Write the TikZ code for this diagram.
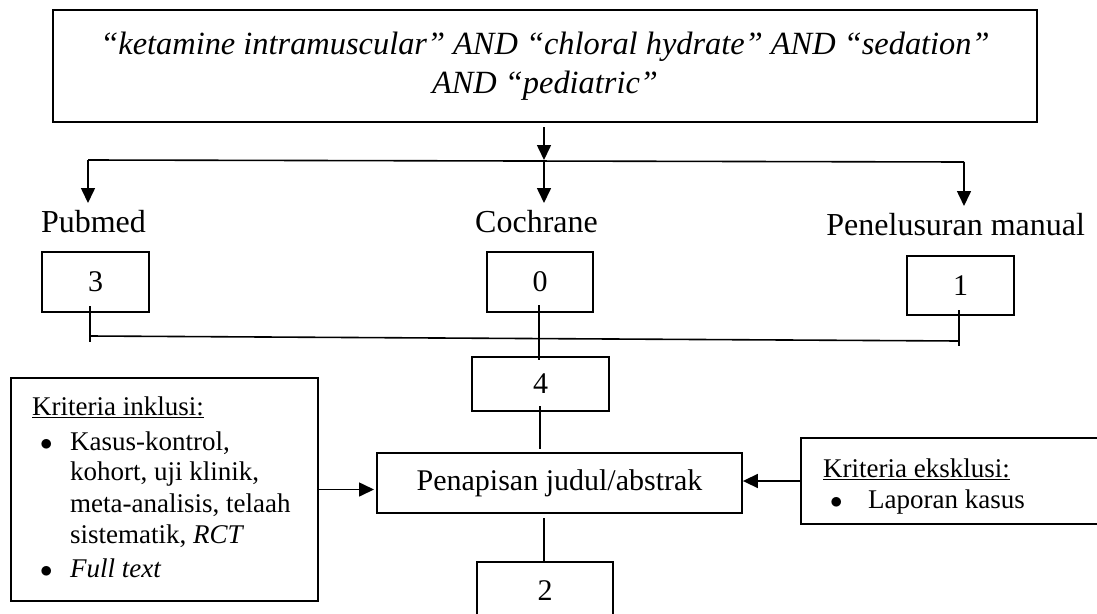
\documentclass[tikz,border=0pt]{standalone}
\usepackage{fontspec}
\setmainfont{Liberation Serif}
\usetikzlibrary{arrows.meta}
\begin{document}
\begin{tikzpicture}[x=1pt,y=-1pt,
  box/.style={draw, line width=1.8pt, inner sep=0pt, anchor=center},
  ln/.style={line width=1.6pt},
  arr/.style={line width=1.6pt, -{Triangle[length=15pt,width=14pt]}},
  lbl/.style={inner sep=0pt, anchor=base, font=\fontsize{32}{38}\selectfont},
  num/.style={box, font=\fontsize{30}{36}\selectfont},
  crit/.style={inner sep=0pt, anchor=base west, font=\fontsize{27}{32}\selectfont},
]
\useasboundingbox (0,0) rectangle (1097,613);
\clip (0,0) rectangle (1097,613);

% top search box
\node[box, minimum width=984pt, minimum height=112pt, align=center,
      font=\fontsize{32.4}{39}\selectfont\itshape] (top) at (545,66)
  {“ketamine intramuscular” AND “chloral hydrate” AND “sedation”\\AND “pediatric”};

% branching
\coordinate (tstart) at (544,127);
\coordinate (bl) at (88,160);
\coordinate (bm) at (544,160);
\coordinate (br) at (964,162);
\coordinate (al) at (88,203);
\coordinate (am) at (544,203);
\coordinate (ar) at (964,206);
\draw[arr] (tstart) -- (bm);
\draw[ln] (bl) -- (br);
\draw[arr] (bl) -- (al);
\draw[arr] (bm) -- (am);
\draw[arr] (br) -- (ar);

% source labels
\node[lbl] (pub) at (93.5,232) {Pubmed};
\node[lbl] (coch) at (536.5,232) {Cochrane};
\node[lbl] (man) at (955.7,235) {Penelusuran manual};

% count boxes
\node[num, minimum width=107pt, minimum height=60pt] (n3) at (95.5,282) {3};
\node[num, minimum width=106pt, minimum height=60pt] (n0) at (540,282) {0};
\node[num, minimum width=107pt, minimum height=59pt] (n1) at (960.5,285.5) {1};
\node[num, minimum width=137pt, minimum height=54pt] (n4) at (540.5,384) {4};
\node[box, minimum width=365pt, minimum height=60pt, font=\fontsize{30}{36}\selectfont] (pen) at (559.5,483) {Penapisan judul/abstrak};
\node[num, minimum width=136pt, minimum height=58pt] (n2) at (545,591) {2};

% merging connectors
\coordinate (v3a) at (90,306);
\coordinate (v3b) at (90,342);
\coordinate (hl) at (90,336);
\coordinate (hr) at (959,341);
\coordinate (v1a) at (959,310);
\coordinate (v1b) at (959,346);
\coordinate (v0a) at (539,305);
\coordinate (v0b) at (539,360);
\coordinate (v4a) at (540,406);
\coordinate (v4b) at (540,449);
\coordinate (vpa) at (544,518);
\coordinate (vpb) at (544,562);
\draw[ln] (v3a) -- (v3b);
\draw[ln] (hl) -- (hr);
\draw[ln] (v1a) -- (v1b);
\draw[ln] (v0a) -- (v0b);
\draw[ln] (v4a) -- (v4b);
\draw[ln] (vpa) -- (vpb);

% criteria boxes
\node[box, minimum width=307pt, minimum height=223pt] (inc) at (164.5,489.5) {};
\node[box, minimum width=309pt, minimum height=86pt] (exc) at (955.5,481) {};

\node[crit] (i0) at (32,415) {\underline{Kriteria inklusi:}};
\node[crit] (ib1) at (40,450) {$\bullet$};
\node[crit] (i1) at (70,450) {Kasus-kontrol,};
\node[crit] (i2) at (70,480) {kohort, uji klinik,};
\node[crit] (i3) at (70,512) {meta-analisis, telaah};
\node[crit] (i4) at (70,543) {sistematik, \textit{RCT}};
\node[crit] (ib2) at (40,577) {$\bullet$};
\node[crit] (i5) at (70,577) {\textit{Full text}};

\node[crit] (e0) at (823,477) {\underline{Kriteria eksklusi:}};
\node[crit] (eb) at (830,508) {$\bullet$};
\node[crit] (e1) at (868,508) {Laporan kasus};

% arrows into screening
\coordinate (pl) at (374,489.5);
\draw[arr] (inc.east) -- (pl);
\draw[arr] (exc.west) -- (exc.west -| pen.east);
\end{tikzpicture}
\end{document}
